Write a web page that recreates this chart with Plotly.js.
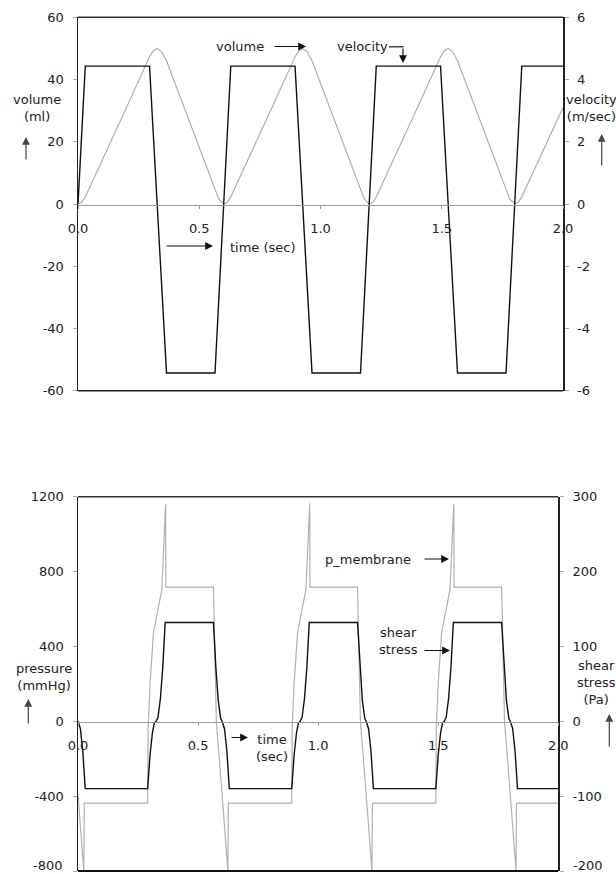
<!DOCTYPE html>
<html>
<head>
<meta charset="utf-8">
<script src="https://cdn.plot.ly/plotly-3.0.1.min.js"></script>
<style>html,body{margin:0;padding:0;background:#fff;}#chart{width:616px;height:874px;}</style>
</head>
<body>
<div id="chart"></div>
<script>
// ---------- tick labels ----------
var xTicks = [0, 0.5, 1.0, 1.5, 2.0];
var xTickLabels = ['0.0', '0.5', '1.0', '1.5', '2.0'];
var volumeTicks = [-60, -40, -20, 0, 20, 40, 60];
var volumeTickLabels = ['-60', '-40', '-20', '0', '20', '40', '60'];
var velocityTicks = [-6, -4, -2, 0, 2, 4, 6];
var velocityTickLabels = ['-6', '-4', '-2', '0', '2', '4', '6'];
var pressureTicks = [-800, -400, 0, 400, 800, 1200];
var pressureTickLabels = ['-800', '-400', '0', '400', '800', '1200'];
var shearTicks = [-200, -100, 0, 100, 200, 300];
var shearTickLabels = ['-200', '-100', '0', '100', '200', '300'];

// ---------- top chart data ----------
var velocityT = [0, 0.03, 0.295, 0.365, 0.565, 0.63, 0.895, 0.965, 1.165, 1.23, 1.495, 1.565, 1.765, 1.83, 2.0];
var velocityV = [0, 4.43, 4.43, -5.43, -5.43, 4.43, 4.43, -5.43, -5.43, 4.43, 4.43, -5.43, -5.43, 4.43, 4.43];

var volumeT = [0, 0.015, 0.03, 0.1, 0.2, 0.295, 0.31, 0.326, 0.345, 0.365, 0.45, 0.565, 0.58,
  0.6, 0.615, 0.63, 0.7, 0.8, 0.895, 0.91, 0.926, 0.945, 0.965, 1.05, 1.165, 1.18,
  1.2, 1.215, 1.23, 1.3, 1.4, 1.495, 1.51, 1.526, 1.545, 1.565, 1.65, 1.765, 1.78,
  1.8, 1.815, 1.83, 1.9, 2.0];
var volumeV = [0, 0.5, 2.3, 14, 31, 47.3, 49.2, 50, 48.9, 46, 28.5, 4.6, 1.7,
  0, 0.5, 2.3, 14, 31, 47.3, 49.2, 50, 48.9, 46, 28.5, 4.6, 1.7,
  0, 0.5, 2.3, 14, 31, 47.3, 49.2, 50, 48.9, 46, 28.5, 4.6, 1.7,
  0, 0.5, 2.3, 14, 31];

// ---------- bottom chart data ----------
var shearT = [0, 0.01, 0.02, 0.03, 0.29, 0.3, 0.31, 0.318, 0.325, 0.333, 0.343, 0.353, 0.363, 0.564, 0.574, 0.584, 0.594,
  0.6, 0.61, 0.62, 0.63, 0.89, 0.9, 0.91, 0.918, 0.925, 0.933, 0.943, 0.953, 0.963, 1.164, 1.174, 1.184, 1.194,
  1.2, 1.21, 1.22, 1.23, 1.49, 1.5, 1.51, 1.518, 1.525, 1.533, 1.543, 1.553, 1.563, 1.764, 1.774, 1.784, 1.794,
  1.8, 1.81, 1.82, 1.83, 2.0];
var shearV = [0, -10, -40, -90, -90, -45, -15, -2, 0, 5, 30, 72, 132, 132, 72, 28, 4,
  0, -10, -40, -90, -90, -45, -15, -2, 0, 5, 30, 72, 132, 132, 72, 28, 4,
  0, -10, -40, -90, -90, -45, -15, -2, 0, 5, 30, 72, 132, 132, 72, 28, 4,
  0, -10, -40, -90, -90];

var pmemT = [0, 0.018, 0.024, 0.026, 0.29, 0.292, 0.3, 0.314, 0.339, 0.349, 0.365, 0.366, 0.564, 0.576,
  0.6, 0.618, 0.624, 0.626, 0.89, 0.892, 0.9, 0.914, 0.939, 0.949, 0.965, 0.966, 1.164, 1.176,
  1.2, 1.218, 1.224, 1.226, 1.49, 1.492, 1.5, 1.514, 1.539, 1.549, 1.565, 1.566, 1.764, 1.776,
  1.8, 1.818, 1.824, 1.826, 2.0];
var pmemV = [-390, -700, -800, -437, -437, -30, 200, 472, 632, 703, 1160, 717, 717, 0,
  -390, -700, -800, -437, -437, -30, 200, 472, 632, 703, 1165, 717, 717, 0,
  -390, -700, -800, -437, -437, -30, 200, 472, 632, 703, 1160, 717, 717, 0,
  -390, -700, -800, -437, -437];

// ---------- layout helpers ----------
var W = 616, H = 874;
function px(x) { return x / W; }
function py(y) { return 1 - y / H; }
var FONT = 'DejaVu Sans, Verdana, sans-serif';
var TXT = '#222';

var traces = [
  {x: volumeT, y: volumeV, xaxis: 'x', yaxis: 'y', mode: 'lines', line: {color: '#b0b0b0', width: 1.2}, hoverinfo: 'skip'},
  {x: velocityT, y: velocityV, xaxis: 'x', yaxis: 'y2', mode: 'lines', line: {color: '#111', width: 1.4}, hoverinfo: 'skip'},
  {x: pmemT, y: pmemV, xaxis: 'x2', yaxis: 'y3', mode: 'lines', line: {color: '#b0b0b0', width: 1.2}, hoverinfo: 'skip'},
  {x: shearT, y: shearV, xaxis: 'x2', yaxis: 'y4', mode: 'lines', line: {color: '#111', width: 1.4}, hoverinfo: 'skip'}
];

function xAxis(domain, pos) {
  return {
    domain: domain, anchor: 'free', position: pos, range: [0, 2],
    tickmode: 'array', tickvals: xTicks, ticktext: xTickLabels,
    showline: true, linecolor: '#9a9a9a', linewidth: 1,
    ticks: 'outside', ticklen: 3, tickcolor: '#9a9a9a',
    ticklabelstandoff: 9,
    showgrid: false, zeroline: false, fixedrange: true,
    tickfont: {family: FONT, size: 13, color: TXT}
  };
}
// labels of the lowest tick (at the very bottom edge of the page) are drawn as annotations, lifted a little
function hideFirst(labels) { return [''].concat(labels.slice(1)); }
function yAxis(domain, anchor, range, vals, labels, side, overlay) {
  var a = {
    anchor: anchor, range: range, side: side,
    tickmode: 'array', tickvals: vals, ticktext: labels,
    showline: true, linecolor: '#222', linewidth: 1.5,
    ticks: 'outside', ticklen: 4, tickcolor: '#aaa',
    ticklabelstandoff: 6,
    showgrid: false, zeroline: false, fixedrange: true,
    tickfont: {family: FONT, size: 13, color: TXT}
  };
  if (overlay) { a.overlaying = overlay; } else { a.domain = domain; }
  return a;
}

var topX = [px(78), px(563)];
var topY = [py(390.7), py(17.3)];
var botX = [px(78), px(558.3)];
var botY = [py(871), py(496.7)];

function text(t, x, y, anchor) {
  return {text: t, x: px(x), y: py(y), xref: 'paper', yref: 'paper', showarrow: false,
    xanchor: anchor || 'center', yanchor: 'middle', font: {family: FONT, size: 13, color: TXT}};
}
function arrow(tipX, tipY, tailX, tailY, color) {
  return {text: '', x: px(tipX), y: py(tipY), xref: 'paper', yref: 'paper', showarrow: true,
    ax: tailX - tipX, ay: tailY - tipY, axref: 'pixel', ayref: 'pixel',
    arrowhead: 2, arrowsize: 1.3, arrowwidth: 1.2, arrowcolor: color || '#111', standoff: 0, startstandoff: 0};
}

var annotations = [
  // top chart
  text('volume', 240, 46.5),
  arrow(306, 46.5, 273, 46.5),
  text('velocity', 362.5, 46.5),
  arrow(403, 63, 403, 47),
  text('volume<br>(ml)', 36.5, 108),
  arrow(26, 137, 26, 161, '#444'),
  text('velocity<br>(m/sec)', 591, 107.5),
  arrow(601.7, 134, 601.7, 167, '#444'),
  text('time (sec)', 262.5, 247.5),
  arrow(213, 246, 165, 246),
  // bottom chart
  text('p_membrane', 367.5, 559.3),
  arrow(449, 559, 423, 559),
  text('shear<br>stress', 377, 640.5, 'left'),
  arrow(450, 650.5, 423, 650.5),
  text('pressure<br>(mmHg)', 43.5, 676.5),
  arrow(28.3, 699, 28.3, 725, '#444'),
  text('time<br>(sec)', 271.5, 747.5),
  arrow(248, 737.5, 230, 737.5),
  text('shear<br>stress<br>(Pa)', 596, 682),
  arrow(609.3, 714, 609.3, 748, '#444'),
  // lowest tick labels of the bottom chart
  text(pressureTickLabels[0], 64.5, 865.5, 'right'),
  text(shearTickLabels[0], 570.5, 865.5, 'left')
];

var shapes = [
  {type: 'line', xref: 'x domain', yref: 'y domain', x0: 0, x1: 1, y0: 1, y1: 1, line: {color: '#333', width: 1.5}},
  {type: 'line', xref: 'x domain', yref: 'y domain', x0: 0, x1: 1, y0: 0, y1: 0, line: {color: '#222', width: 1.6}},
  {type: 'line', xref: 'x2 domain', yref: 'y3 domain', x0: 0, x1: 1, y0: 1, y1: 1, line: {color: '#333', width: 1.5}},
  {type: 'line', xref: 'x2 domain', yref: 'y3 domain', x0: 0, x1: 1, y0: 0, y1: 0, line: {color: '#111', width: 1.8}},
  {type: 'line', xref: 'paper', yref: 'paper', x0: px(389), x1: px(403.6), y0: py(46.8), y1: py(46.8), line: {color: '#111', width: 1.2}}
];

var layout = {
  width: W, height: H, autosize: false,
  margin: {l: 0, r: 0, t: 0, b: 0, pad: 0},
  paper_bgcolor: '#fff', plot_bgcolor: 'rgba(0,0,0,0)',
  showlegend: false,
  font: {family: FONT, size: 13, color: TXT},
  xaxis: xAxis(topX, py(204.5)),
  yaxis: yAxis(topY, 'x', [-60, 60], volumeTicks, volumeTickLabels, 'left'),
  yaxis2: yAxis(null, 'x', [-6, 6], velocityTicks, velocityTickLabels, 'right', 'y'),
  xaxis2: xAxis(botX, py(721.5)),
  yaxis3: yAxis(botY, 'x2', [-800, 1200], pressureTicks, hideFirst(pressureTickLabels), 'left'),
  yaxis4: yAxis(null, 'x2', [-200, 300], shearTicks, hideFirst(shearTickLabels), 'right', 'y3'),
  annotations: annotations,
  shapes: shapes
};

Plotly.newPlot('chart', traces, layout, {staticPlot: true, displayModeBar: false});
</script>
</body>
</html>
